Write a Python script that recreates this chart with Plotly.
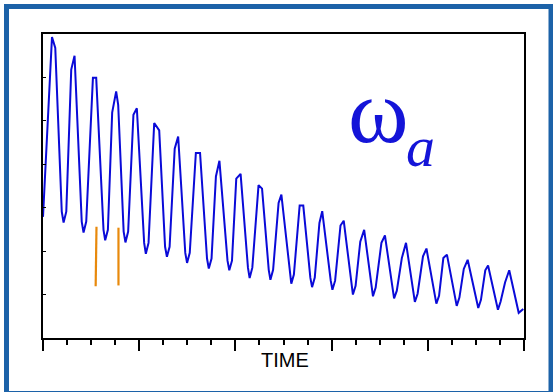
import plotly.graph_objects as go

# Time (arbitrary units, 0-100) and counts (arbitrary units, 0-7)
time_vals = [
    0.00, 1.87, 2.55, 3.90, 4.28, 4.84, 5.87, 6.56, 8.05, 8.43, 8.99,
    10.38, 11.06, 12.58, 12.93, 13.49, 14.38, 15.21, 15.63, 16.77, 17.14, 17.70,
    18.80, 19.51, 21.03, 21.38, 21.94, 23.12, 24.16, 25.38, 25.76, 26.32,
    27.38, 28.10, 29.58, 29.95, 30.51, 31.78, 32.65, 34.10, 34.47, 35.04,
    35.95, 36.68, 38.36, 38.73, 39.29, 40.18, 41.08, 42.61, 42.96, 43.52,
    44.81, 45.54, 46.93, 47.28, 47.84, 48.98, 49.56, 51.27, 51.62, 52.16,
    53.36, 54.11, 55.58, 55.94, 56.50, 57.47, 58.05, 59.82, 60.17, 60.73,
    61.85, 62.52, 64.07, 64.43, 64.99, 65.96, 66.77, 68.24, 68.60, 69.16,
    70.36, 71.09, 72.64, 72.99, 73.56, 74.60, 75.47, 76.96, 77.31, 77.88,
    79.00, 79.72, 81.42, 81.78, 82.34, 83.23, 83.98, 85.66, 86.01, 86.57,
    87.48, 88.29, 90.14, 90.49, 91.05, 91.95, 92.53, 94.23, 94.58, 95.14,
    96.06, 96.93, 98.90, 99.85,
]
counts = [
    2.79, 6.93, 6.68, 2.91, 2.66, 2.91, 6.18, 6.50, 2.68, 2.43, 2.68,
    5.99, 5.99, 2.49, 2.25, 2.49, 5.19, 5.68, 5.37, 2.45, 2.20, 2.45,
    5.14, 5.29, 2.19, 1.94, 2.19, 4.95, 4.78, 2.10, 1.87, 2.10,
    4.36, 4.64, 1.96, 1.73, 1.96, 4.26, 4.26, 1.83, 1.60, 1.83,
    3.72, 4.08, 1.78, 1.56, 1.78, 3.67, 3.78, 1.62, 1.38, 1.62,
    3.52, 3.44, 1.57, 1.34, 1.57, 3.11, 3.30, 1.46, 1.25, 1.46,
    3.05, 3.05, 1.39, 1.17, 1.39, 2.65, 2.92, 1.32, 1.11, 1.32,
    2.59, 2.70, 1.20, 1.00, 1.20, 2.22, 2.49, 1.16, 0.96, 1.16,
    2.19, 2.36, 1.09, 0.91, 1.09, 1.84, 2.19, 1.02, 0.83, 1.02,
    1.88, 2.06, 0.97, 0.79, 0.97, 1.84, 1.92, 0.93, 0.74, 0.93,
    1.59, 1.80, 0.88, 0.69, 0.88, 1.56, 1.67, 0.84, 0.65, 0.84,
    1.28, 1.56, 0.58, 0.67,
]

# Orange marker segments (x, y-start, y-end)
marker_x = [11.12, 15.69]
marker_x_bottom = [10.95, 15.69]
marker_y_top = [2.56, 2.54]
marker_y_bottom = [1.19, 1.21]

fig = go.Figure()
fig.add_trace(go.Scatter(x=time_vals, y=counts, mode="lines",
                         line=dict(color="#0a0ad8", width=2), showlegend=False,
                         hoverinfo="skip"))
for xt, xb, yt, yb in zip(marker_x, marker_x_bottom, marker_y_top, marker_y_bottom):
    fig.add_trace(go.Scatter(x=[xt, xb], y=[yt, yb], mode="lines",
                             line=dict(color="#e8890c", width=2.2),
                             showlegend=False, hoverinfo="skip"))

W, H = 553, 392
ml, mr, mt, mb = 43, 29, 34, 54
pw, ph = W - ml - mr, H - mt - mb

def px_x(p):
    return (p - ml) / pw

def px_y(p):
    return (H - mb - p) / ph

fig.update_layout(
    width=W, height=H,
    margin=dict(l=ml, r=mr, t=mt, b=mb, pad=0),
    paper_bgcolor="white", plot_bgcolor="white",
    xaxis=dict(range=[0, 100], dtick=20, tick0=0, showgrid=False, zeroline=False,
               showline=True, mirror=True, linecolor="black", linewidth=1.5,
               ticks="outside", ticklen=11, tickwidth=1.5, tickcolor="black",
               showticklabels=False,
               minor=dict(dtick=5, ticks="outside", ticklen=5, tickwidth=1.5,
                          tickcolor="black", showgrid=False)),
    yaxis=dict(range=[0, 7], dtick=1, tick0=0, showgrid=False, zeroline=False,
               showline=True, mirror=True, linecolor="black", linewidth=1.5,
               ticks="inside", ticklen=3, tickwidth=1.2, tickcolor="black",
               showticklabels=False),
    shapes=[dict(type="rect", xref="paper", yref="paper",
                 x0=px_x(6.5), x1=px_x(551), y0=px_y(393.5), y1=px_y(6.5),
                 line=dict(color="#1c62a8", width=5), layer="above")],
    annotations=[
        dict(text="TIME", xref="paper", yref="paper", x=px_x(285), y=px_y(360),
             xanchor="center", yanchor="middle", showarrow=False,
             font=dict(family="Liberation Sans, Arial", size=20, color="black")),
        dict(text="ω", xref="paper", yref="paper", x=px_x(378.5), y=px_y(111),
             xanchor="center", yanchor="middle", showarrow=False,
             font=dict(family="Liberation Serif, Times New Roman", size=92,
                       color="#1414d8")),
        dict(text="<i>a</i>", xref="paper", yref="paper", x=px_x(420), y=px_y(146),
             xanchor="center", yanchor="middle", showarrow=False,
             font=dict(family="Liberation Serif, Times New Roman", size=58,
                       color="#1414d8")),
    ],
)

fig.write_html("out.html", config={"displayModeBar": False},
               post_script="document.body.style.margin='0';document.body.style.overflow='hidden';")
